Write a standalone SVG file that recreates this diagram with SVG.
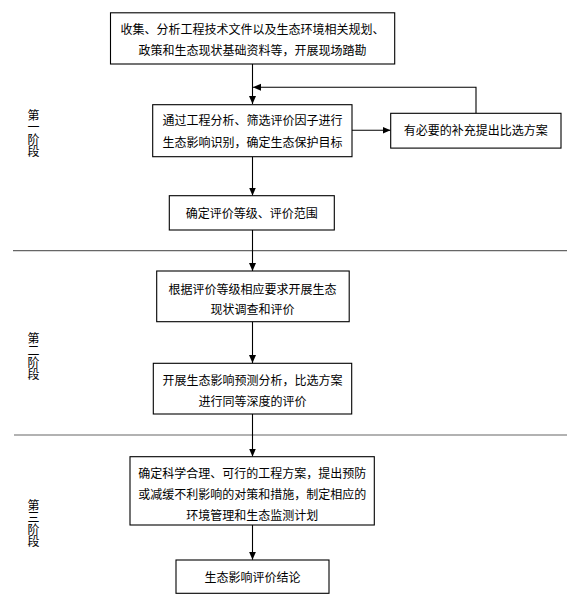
<svg xmlns="http://www.w3.org/2000/svg" width="577" height="605" viewBox="0 0 577 605">
<defs>
<marker id="ah" markerUnits="userSpaceOnUse" markerWidth="9" markerHeight="8" refX="8" refY="3.5" orient="auto">
<path d="M0,0 L8,3.5 L0,7 z" fill="#000"/>
</marker>
<style>
.box{fill:#fff;stroke:#000;stroke-width:1.1}
.t{font-family:"Noto Sans CJK SC","Noto Sans CJK TC",sans-serif;font-size:12px;fill:#000;text-anchor:middle;dominant-baseline:central}
.v{font-family:"Noto Sans CJK SC","Noto Sans CJK TC",sans-serif;font-size:12px;fill:#000;writing-mode:vertical-rl;text-anchor:start}
.c{fill:none;stroke:#000;stroke-width:1.1}
.div{stroke:#666;stroke-width:1.2}
</style>
</defs>
<rect width="577" height="605" fill="#fff"/>
<g id="dividers">
<line class="div" x1="13" y1="250.7" x2="567" y2="250.7"/>
<line class="div" x1="14" y1="435" x2="567" y2="435"/>
</g>
<g id="stage1">
<text class="v" x="33.5" y="109">第一阶段</text>
</g>
<g id="stage2">
<text class="v" x="33.5" y="332.5">第二阶段</text>
</g>
<g id="stage3">
<text class="v" x="33.5" y="499">第三阶段</text>
</g>
<g id="connectors">
<line class="c" x1="252.5" y1="64" x2="252.5" y2="104" marker-end="url(#ah)"/>
<polyline class="c" points="476,113.3 476,87.3 253,87.3" marker-end="url(#ah)"/>
<line class="c" x1="352" y1="130.3" x2="390.5" y2="130.3" marker-end="url(#ah)"/>
<line class="c" x1="252.5" y1="156.7" x2="252.5" y2="195.5" marker-end="url(#ah)"/>
<line class="c" x1="252.5" y1="230" x2="252.5" y2="271" marker-end="url(#ah)"/>
<line class="c" x1="252.5" y1="321.7" x2="252.5" y2="363" marker-end="url(#ah)"/>
<line class="c" x1="252.5" y1="414" x2="252.5" y2="456.5" marker-end="url(#ah)"/>
<line class="c" x1="252.5" y1="525" x2="252.5" y2="559.7" marker-end="url(#ah)"/>
</g>
<g id="n1">
<rect class="box" x="110.5" y="12.8" width="284.2" height="51.2"/>
<text class="t" x="252.5" y="28.3">收集、分析工程技术文件以及生态环境相关规划、</text>
<text class="t" x="252.5" y="49.3">政策和生态现状基础资料等，开展现场踏勘</text>
</g>
<g id="n2">
<rect class="box" x="152.7" y="104.7" width="199.3" height="52"/>
<text class="t" x="252.5" y="119.3">通过工程分析、筛选评价因子进行</text>
<text class="t" x="252.5" y="141.7">生态影响识别，确定生态保护目标</text>
</g>
<g id="n3">
<rect class="box" x="390.7" y="113.3" width="170.3" height="34.8"/>
<text class="t" x="475.8" y="129.3">有必要的补充提出比选方案</text>
</g>
<g id="n4">
<rect class="box" x="169.3" y="195.7" width="165" height="34.3"/>
<text class="t" x="251.8" y="212.3">确定评价等级、评价范围</text>
</g>
<g id="n5">
<rect class="box" x="156.7" y="271" width="192.5" height="50.7"/>
<text class="t" x="252.5" y="288.3">根据评价等级相应要求开展生态</text>
<text class="t" x="252.5" y="308.3">现状调查和评价</text>
</g>
<g id="n6">
<rect class="box" x="153.3" y="363.3" width="198.4" height="50.7"/>
<text class="t" x="252.5" y="379.3">开展生态影响预测分析，比选方案</text>
<text class="t" x="252.5" y="400">进行同等深度的评价</text>
</g>
<g id="n7">
<rect class="box" x="130" y="456.7" width="244.3" height="68.3"/>
<text class="t" x="252.2" y="472.7">确定科学合理、可行的工程方案，提出预防</text>
<text class="t" x="252.2" y="493.3">或减缓不利影响的对策和措施，制定相应的</text>
<text class="t" x="252.2" y="514">环境管理和生态监测计划</text>
</g>
<g id="n8">
<rect class="box" x="176" y="560" width="153" height="33.3"/>
<text class="t" x="252.5" y="576.5">生态影响评价结论</text>
</g>
</svg>
